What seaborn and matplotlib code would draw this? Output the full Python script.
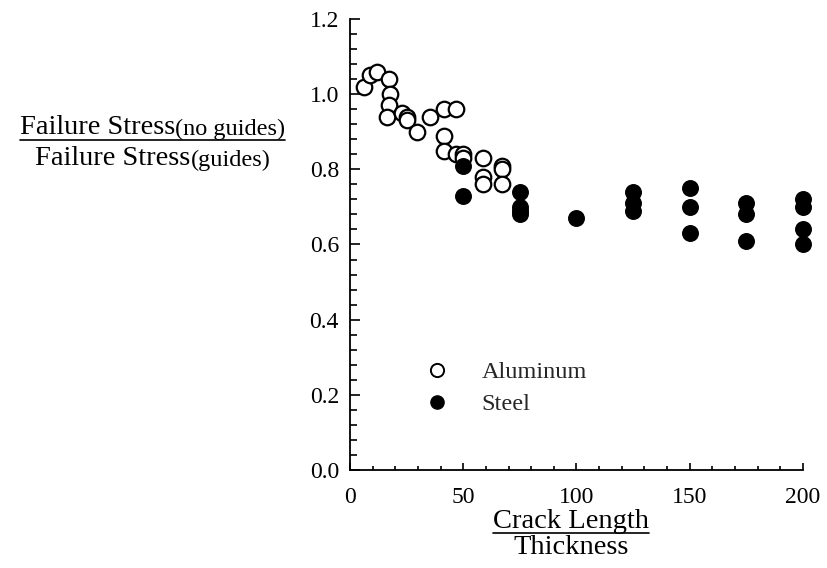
import matplotlib
matplotlib.use("Agg")
import matplotlib.pyplot as plt
import seaborn as sns
import pandas as pd
from matplotlib.lines import Line2D

al_x = [6, 9, 12, 17, 17.5, 17, 16.5, 23, 25, 25, 29.5, 35.5, 41.5, 47, 41.5, 41.5, 47, 50, 50, 58.5, 58.5, 58.5, 67, 67, 67]
al_y = [1.02, 1.05, 1.06, 1.04, 1.00, 0.97, 0.94, 0.95, 0.94, 0.93, 0.90, 0.94, 0.96, 0.96, 0.89, 0.85, 0.84, 0.84, 0.83, 0.83, 0.78, 0.76, 0.81, 0.80, 0.76]
steel_x = [50, 50, 75, 75, 75, 75, 100, 125, 125, 125, 150, 150, 150, 175, 175, 175, 200, 200, 200, 200]
steel_y = [0.81, 0.73, 0.74, 0.70, 0.69, 0.68, 0.67, 0.74, 0.71, 0.69, 0.75, 0.70, 0.63, 0.71, 0.68, 0.61, 0.72, 0.70, 0.64, 0.60]
series = ["Aluminum", "Steel"]
x_ticks = [0, 50, 100, 150, 200]
y_ticks = [0.0, 0.2, 0.4, 0.6, 0.8, 1.0, 1.2]

sns.set_theme(style="ticks")
plt.rcParams["font.family"] = ["Liberation Serif", "DejaVu Serif"]

W, H = 828, 568
al = pd.DataFrame({"x": al_x, "y": al_y})
st = pd.DataFrame({"x": steel_x, "y": steel_y})

fig = plt.figure(figsize=(W / 100, H / 100), dpi=100)
ax = fig.add_axes([350 / W, 1 - 470 / H, 453 / W, 451 / H])

sns.scatterplot(data=al, x="x", y="y", ax=ax, s=125, facecolor="white",
                edgecolor="black", linewidth=1.6, clip_on=False, zorder=3)
sns.scatterplot(data=st, x="x", y="y", ax=ax, s=125, color="black",
                edgecolor="black", linewidth=1.0, clip_on=False, zorder=4)

ax.set_xlim(0, 200)
ax.set_ylim(0, 1.2)
ax.set_xticks(x_ticks)
ax.set_yticks(y_ticks)
ax.set_xticklabels([str(v) for v in x_ticks])
ax.set_yticklabels([f"{v:.1f}" for v in y_ticks])
ax.set_xticks(range(0, 201, 10), minor=True)
ax.set_yticks([i * 0.04 for i in range(31)], minor=True)
ax.tick_params(axis="both", which="both", direction="in", color="black",
               labelsize=17, labelcolor="black", width=1.2)
ax.tick_params(axis="y", which="major", length=7, pad=8)
ax.tick_params(axis="y", which="minor", length=5)
ax.tick_params(axis="x", which="major", length=5, pad=12)
ax.tick_params(axis="x", which="minor", length=3)
sns.despine(ax=ax)
for s in ["left", "bottom"]:
    ax.spines[s].set_color("black")
    ax.spines[s].set_linewidth(1.3)
ax.set_xlabel("")
ax.set_ylabel("")
ax.grid(False)


def two_part(main, small, cx, base_px, main_size=20.5, small_size=17.5):
    t = fig.text(0, 1 - base_px / H, main, fontsize=main_size,
                 ha="left", va="baseline", color="black")
    fig.canvas.draw()
    a = ax.annotate(small, xy=(1, 0), xycoords=t, fontsize=small_size,
                    ha="left", va="bottom", color="black",
                    annotation_clip=False)
    fig.canvas.draw()
    r = fig.canvas.get_renderer()
    b1 = t.get_window_extent(r)
    b2 = a.get_window_extent(r)
    width = b2.x1 - b1.x0
    left = cx - width / 2
    t.set_x(left / W)
    return left, left + width


# y-axis label (fraction)
l1, r1 = two_part("Failure Stress", "(no guides)", 152.5, 134)
fig.add_artist(Line2D([l1 / W, r1 / W], [1 - 139.5 / H, 1 - 139.5 / H],
                      color="black", lw=1.2, transform=fig.transFigure))
two_part("Failure Stress", "(guides)", 153, 165)

# x-axis label (fraction)
t3 = fig.text(571.5 / W, 1 - 528 / H, "Crack Length", fontsize=20.5,
              ha="center", va="baseline", color="black")
fig.canvas.draw()
bb = t3.get_window_extent(fig.canvas.get_renderer())
fig.add_artist(Line2D([bb.x0 / W, bb.x1 / W], [1 - 533 / H, 1 - 533 / H],
                      color="black", lw=1.2, transform=fig.transFigure))
fig.text(571.5 / W, 1 - 554 / H, "Thickness", fontsize=20.5,
         ha="center", va="baseline", color="black")

handles = [
    Line2D([], [], ls="", marker="o", ms=9.5, mfc="white", mec="black", mew=1.4, label=series[0]),
    Line2D([], [], ls="", marker="o", ms=9.5, mfc="black", mec="black", label=series[1]),
]
ax.legend(handles=handles, loc="upper left",
          bbox_to_anchor=(424.5 / W, 1 - 361 / H), bbox_transform=fig.transFigure,
          frameon=False, fontsize=17.5, handletextpad=1.35, labelspacing=0.42,
          handlelength=1.0, borderpad=0, borderaxespad=0)

fig.savefig("out.png", dpi=100, facecolor="white")
